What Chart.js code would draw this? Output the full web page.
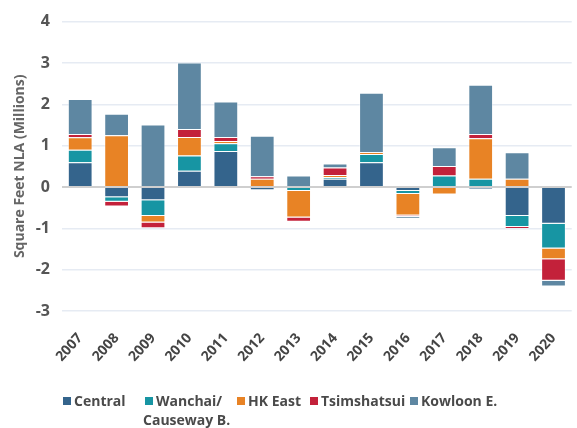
<!DOCTYPE html>
<html>
<head>
<meta charset="utf-8">
<script src="https://cdn.jsdelivr.net/npm/chart.js@4"></script>
<style>
    html, body { margin: 0; padding: 0; background: #fff; }
    #wrap { position: relative; width: 577px; height: 428px; }
    #legend { position: absolute; left: 0; top: 391px; width: 577px; height: 37px;
        font-family: "Open Sans", sans-serif; font-weight: 700; font-size: 14px; color: #4a4a4a; }
    .item { position: absolute; top: 0; line-height: 19px; }
    .box { display: inline-block; width: 8px; height: 8px; margin-right: 3px; vertical-align: 1px; }
</style>
</head>
<body>
<div id="wrap">
    <canvas id="supplyChart" width="577" height="428"></canvas>
    <div id="legend"></div>
</div>
<script>
// Net supply by district, million sq ft NLA
const years = ['2007', '2008', '2009', '2010', '2011', '2012', '2013', '2014', '2015', '2016', '2017', '2018', '2019', '2020'];
const central   = [0.60, -0.25, -0.32, 0.39, 0.87, -0.08, 0, 0.20, 0.60, -0.10, 0, -0.05, -0.70, -0.89];
const wanchai   = [0.30, -0.11, -0.38, 0.37, 0.19, 0, -0.10, 0.04, 0.20, -0.07, 0.28, 0.20, -0.27, -0.60];
const hkEast    = [0.30, 1.25, -0.16, 0.45, 0.05, 0.20, -0.64, 0.05, 0.04, -0.52, -0.18, 0.98, 0.20, -0.26];
const tst       = [0.08, -0.11, -0.14, 0.19, 0.10, 0.06, -0.10, 0.18, 0, -0.03, 0.23, 0.10, -0.04, -0.52];
const kowloonE  = [0.85, 0.52, 1.51, 1.61, 0.86, 0.98, 0.28, 0.10, 1.44, -0.05, 0.45, 1.19, 0.64, -0.14];

const seriesNames = ['Central', 'Wanchai/\nCauseway B.', 'HK East', 'Tsimshatsui', 'Kowloon E.'];
const seriesColors = ['#34648c', '#1795a3', '#e88325', '#c3213a', '#5e87a2'];
const seriesData = [central, wanchai, hkEast, tst, kowloonE];

const font = "'Open Sans', sans-serif";

const datasets = seriesData.map((d, i) => ({
    label: seriesNames[i],
    data: d,
    backgroundColor: seriesColors[i],
    borderColor: 'rgba(255,255,255,0.45)',
    borderWidth: 1,
    barPercentage: 0.68,
    categoryPercentage: 1
}));

new Chart(document.getElementById('supplyChart'), {
    type: 'bar',
    data: { labels: years, datasets: datasets },
    options: {
        responsive: false,
        animation: false,
        layout: { padding: { top: 21, right: 0, bottom: 57, left: 0 } },
        plugins: {
            legend: { display: false },
            tooltip: { enabled: false }
        },
        scales: {
            x: {
                stacked: true,
                grid: { display: false },
                border: { display: false },
                ticks: {
                    minRotation: 48,
                    maxRotation: 48,
                    color: '#444',
                    padding: 11,
                    font: { family: font, size: 14, weight: '700' }
                },
                afterFit: s => { s.height = 60; }
            },
            y: {
                stacked: true,
                min: -3,
                max: 4,
                ticks: {
                    stepSize: 1,
                    color: '#555',
                    padding: 12,
                    font: { family: font, size: 16, weight: '700' }
                },
                grid: {
                    drawTicks: false,
                    color: ctx => ctx.tick && ctx.tick.value === 0 ? '#cfcfcf' : '#e6ebf3',
                    lineWidth: ctx => ctx.tick && ctx.tick.value === 0 ? 2 : 1.5
                },
                border: { display: false },
                title: {
                    display: true,
                    text: 'Square Feet NLA (Millions)',
                    color: '#666',
                    padding: { top: 12, bottom: 0 },
                    font: { family: font, size: 14, weight: '700' }
                },
                afterFit: s => { s.width = 62; }
            }
        }
    }
});

// HTML legend (second entry wraps onto two lines)
const legendLeft = [63, 145, 237, 310, 410];
const legend = document.getElementById('legend');
seriesNames.forEach((name, i) => {
    const item = document.createElement('div');
    item.className = 'item';
    item.style.left = legendLeft[i] + 'px';
    const lines = name.split('\n');
    item.innerHTML = '<span class="box" style="background:' + seriesColors[i] + '"></span>' + lines[0] +
        (lines[1] ? '<br><span style="margin-left:-2px">' + lines[1] + '</span>' : '');
    legend.appendChild(item);
});
</script>
</body>
</html>
